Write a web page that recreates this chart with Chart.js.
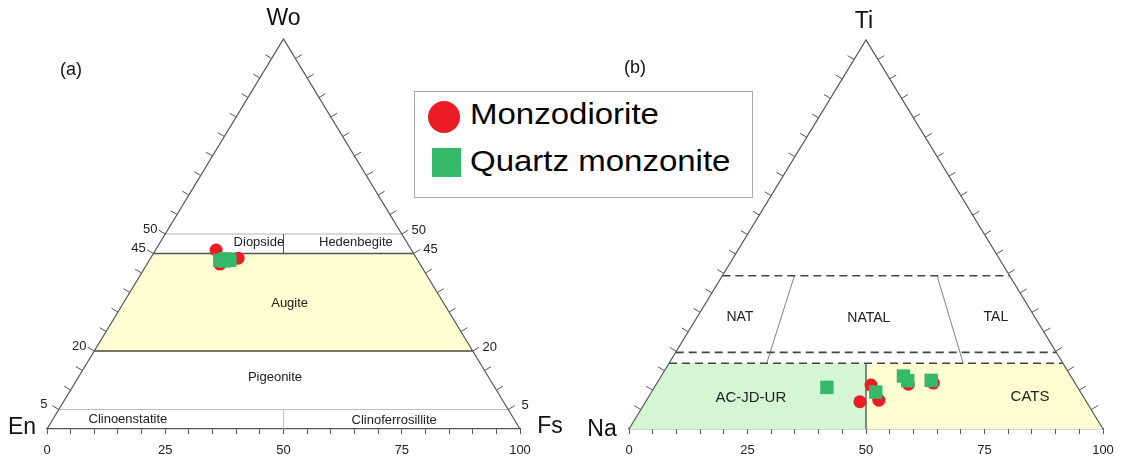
<!DOCTYPE html>
<html>
<head>
<meta charset="utf-8">
<script src="https://cdn.jsdelivr.net/npm/chart.js@4"></script>
<style>
  body { margin: 0; background: #fff; width: 1123px; height: 462px; overflow: hidden; position: relative; font-family: "Liberation Sans", Arial, sans-serif; }
  canvas { position: absolute; top: 0; }
  #chartA { left: 0; }
  #chartB { left: 575px; }
  #legend { position: absolute; left: 414px; top: 91px; width: 337px; height: 105px; border: 1px solid #a8a8a8; background: #fff; }
  #legend .mk { position: absolute; }
  #legend .txt { position: absolute; left: 55px; font-size: 30px; line-height: 30px; color: #000; white-space: nowrap; transform: scaleX(1.1); transform-origin: left center; }
</style>
</head>
<body>
<canvas id="chartA" width="575" height="462"></canvas>
<canvas id="chartB" width="548" height="462"></canvas>
<div id="legend"></div>

<script>
const FONT = '"Liberation Sans", Arial, sans-serif';

// groups
const groups = ['Monzodiorite', 'Quartz monzonite'];
const groupColors = ['#ec1c24', '#34b96a'];

// (a) pyroxene: Wo - En - Fs (%)
const mdWo = [45.9, 43.8, 42.3];
const mdEn = [41.3, 37.7, 42.3];
const mdFs = [12.8, 18.5, 15.4];
const qmWo = [43.3, 43.6, 43.3, 43.1];
const qmEn = [41.8, 40.6, 39.7, 41.0];
const qmFs = [14.9, 15.8, 17.0, 15.9];

// (b) Ti - Na - third apex (%)
const mdTi = [11.3, 7.0, 7.4, 11.5, 11.8];
const mdNa = [43.3, 47.8, 43.6, 35.3, 29.9];
const mdAl = [45.4, 45.2, 49.0, 53.2, 58.3];
const qmTi = [10.7, 9.5, 13.6, 12.4, 12.5];
const qmNa = [52.9, 43.2, 35.3, 35.0, 30.0];
const qmAl = [36.4, 47.3, 51.1, 52.6, 57.5];

// axis labels
const baseTickLabels = [0, 25, 50, 75, 100];
const sideTickLabels = [50, 45, 20, 5];

// ternary -> x/y in a 0..100 box (top apex at x=50)
function tern(top, left, right) {
    const s = top + left + right;
    return { x: (right + top / 2) / s * 100, y: top / s * 100 };
}
function toPoints(top, left, right) {
    return top.map((t, i) => tern(t, left[i], right[i]));
}

function P(chart, x, y) {
    return [chart.scales.x.getPixelForValue(x), chart.scales.y.getPixelForValue(y)];
}
function path(ctx, chart, pts) {
    ctx.beginPath();
    pts.forEach((p, i) => {
        const [X, Y] = P(chart, p[0], p[1]);
        if (i) ctx.lineTo(X, Y); else ctx.moveTo(X, Y);
    });
}
function line(ctx, chart, a, b, color, width, dash) {
    ctx.save();
    ctx.strokeStyle = color;
    ctx.lineWidth = width;
    ctx.setLineDash(dash || []);
    path(ctx, chart, [a, b]);
    ctx.stroke();
    ctx.restore();
}
function fillPoly(ctx, chart, pts, color) {
    ctx.save();
    ctx.fillStyle = color;
    path(ctx, chart, pts);
    ctx.closePath();
    ctx.fill();
    ctx.restore();
}
function text(ctx, str, x, y, size, color) {
    ctx.save();
    ctx.font = size + 'px ' + FONT;
    ctx.fillStyle = color || '#222';
    ctx.textAlign = 'center';
    ctx.textBaseline = 'middle';
    ctx.fillText(str, x, y);
    ctx.restore();
}
function chartText(ctx, chart, str, x, y, size) {
    const [X, Y] = P(chart, x, y);
    text(ctx, str, X, Y, size);
}

// triangle outline + side ticks
function drawFrame(ctx, chart, withSideLabels) {
    ctx.save();
    ctx.strokeStyle = '#555';
    ctx.lineWidth = 1.2;
    path(ctx, chart, [[0, 0], [50, 100], [100, 0]]);
    ctx.stroke();
    ctx.lineWidth = 1;
    for (let v = 5; v < 100; v += 5) {
        const [lx, ly] = P(chart, v / 2, v);
        const [rx, ry] = P(chart, 100 - v / 2, v);
        ctx.beginPath();
        ctx.moveTo(lx, ly); ctx.lineTo(lx - 6.5, ly - 3.8);
        ctx.moveTo(rx, ry); ctx.lineTo(rx + 6.5, ry - 3.8);
        ctx.stroke();
    }
    ctx.restore();
    if (withSideLabels) {
        sideTickLabels.forEach(v => {
            const [lx, ly] = P(chart, v / 2, v);
            const [rx, ry] = P(chart, 100 - v / 2, v);
            text(ctx, String(v), lx - 15, ly - 5, 13);
            text(ctx, String(v), rx + 17, ry - 4, 13);
        });
    }
}

const pyroxenePlugin = {
    id: 'pyroxene',
    beforeDatasetsDraw(chart) {
        const ctx = chart.ctx;
        // augite field
        fillPoly(ctx, chart, [[10, 20], [90, 20], [77.5, 45], [22.5, 45]], '#fffdd2');
        line(ctx, chart, [25, 50], [75, 50], '#b4b4b4', 1);
        line(ctx, chart, [2.5, 5], [97.5, 5], '#bdbdbd', 1);
        line(ctx, chart, [50, 45], [50, 50], '#555', 1);
        line(ctx, chart, [50, 0], [50, 5], '#bdbdbd', 1);
        line(ctx, chart, [22.5, 45], [77.5, 45], '#555', 1.3);
        line(ctx, chart, [10, 20], [90, 20], '#77776a', 1.8);
        drawFrame(ctx, chart, true);

        chartText(ctx, chart, 'Diopside', 44.8, 47.9, 13);
        chartText(ctx, chart, 'Hedenbegite', 65.3, 47.8, 13);
        chartText(ctx, chart, 'Augite', 51.3, 32.3, 13);
        chartText(ctx, chart, 'Pigeonite', 48.2, 13.1, 13);
        chartText(ctx, chart, 'Clinoenstatite', 17.1, 2.4, 13);
        chartText(ctx, chart, 'Clinoferrosillite', 73.4, 2.3, 13);

        const [ax, ay] = P(chart, 50, 100);
        const [lx, ly] = P(chart, 0, 0);
        const [rx, ry] = P(chart, 100, 0);
        text(ctx, 'Wo', ax, ay - 20, 23, '#111');
        text(ctx, 'En', lx - 25, ly - 1, 23, '#111');
        text(ctx, 'Fs', rx + 30, ry - 2, 23, '#111');
        text(ctx, '(a)', chart.chartArea.left + 24, 70, 18, '#111');
    }
};

const papikePlugin = {
    id: 'papike',
    beforeDatasetsDraw(chart) {
        const ctx = chart.ctx;
        const low = 16.9, mid = 19.7, top = 39.4;
        fillPoly(ctx, chart, [[0, 0], [50, 0], [50, low], [low / 2, low]], '#d4f6d2');
        fillPoly(ctx, chart, [[50, 0], [100, 0], [100 - low / 2, low], [50, low]], '#fffdd2');
        line(ctx, chart, [50, 0], [50, low], '#556655', 1.5);
        line(ctx, chart, [34.9, top], [29.05, low], '#808080', 1);
        line(ctx, chart, [65.0, top], [70.5, low], '#808080', 1);
        [top, mid, low].forEach(h => line(ctx, chart, [h / 2, h], [100 - h / 2, h], '#444', 1.6, [8, 5]));
        drawFrame(ctx, chart, false);

        chartText(ctx, chart, 'NAT', 23.4, 28.8, 14);
        chartText(ctx, chart, 'NATAL', 50.6, 28.5, 14);
        chartText(ctx, chart, 'TAL', 77.4, 28.8, 14);
        chartText(ctx, chart, 'AC-JD-UR', 25.7, 8.0, 15);
        chartText(ctx, chart, 'CATS', 84.6, 8.2, 15);

        const [ax, ay] = P(chart, 50, 100);
        const [lx, ly] = P(chart, 0, 0);
        text(ctx, 'Ti', ax - 2, ay - 18, 23, '#111');
        text(ctx, 'Na', lx - 27, ly + 1, 23, '#111');
        text(ctx, '(b)', chart.chartArea.left + 6, 68, 18, '#111');
    }
};

function makeOptions(padding) {
    return {
        responsive: false,
        animation: false,
        layout: { padding: padding },
        plugins: { legend: { display: false }, tooltip: { enabled: false } },
        scales: {
            x: {
                type: 'linear', min: 0, max: 100,
                afterFit: s => { s.height = 33; },
                ticks: {
                    stepSize: 5, autoSkip: false, maxRotation: 0, padding: 9,
                    color: '#222', font: { size: 13, family: FONT },
                    callback: v => baseTickLabels.includes(v) ? String(v) : ''
                },
                grid: { drawOnChartArea: false, tickLength: 5, color: '#555' },
                border: { color: '#555', width: 1.2 }
            },
            y: { type: 'linear', min: 0, max: 100, display: false }
        }
    };
}

// higher order is drawn first, so squares sit on top of circles
function makeDatasets(mdPts, qmPts) {
    return [
        { label: groups[0], data: mdPts, order: 2, pointStyle: 'circle', pointRadius: 6.5,
          backgroundColor: groupColors[0], borderWidth: 0 },
        { label: groups[1], data: qmPts, order: 1, pointStyle: 'rect', pointRadius: 9.5,
          backgroundColor: groupColors[1], borderWidth: 0 }
    ];
}

new Chart(document.getElementById('chartA'), {
    type: 'scatter',
    data: { datasets: makeDatasets(toPoints(mdWo, mdEn, mdFs), toPoints(qmWo, qmEn, qmFs)) },
    options: makeOptions({ left: 47, right: 55, top: 39, bottom: 0 }),
    plugins: [pyroxenePlugin]
});

new Chart(document.getElementById('chartB'), {
    type: 'scatter',
    data: { datasets: makeDatasets(toPoints(mdTi, mdNa, mdAl), toPoints(qmTi, qmNa, qmAl)) },
    options: makeOptions({ left: 54, right: 20, top: 40, bottom: 0 }),
    plugins: [papikePlugin]
});

// legend box
const legend = document.getElementById('legend');
legend.innerHTML = `
    <div class="mk" style="left:13px;top:9px;width:32px;height:32px;border-radius:50%;background:${groupColors[0]}"></div>
    <div class="txt" style="top:7px">${groups[0]}</div>
    <div class="mk" style="left:17px;top:56px;width:29px;height:29px;background:${groupColors[1]}"></div>
    <div class="txt" style="top:54px">${groups[1]}</div>
`;
</script>
</body>
</html>
